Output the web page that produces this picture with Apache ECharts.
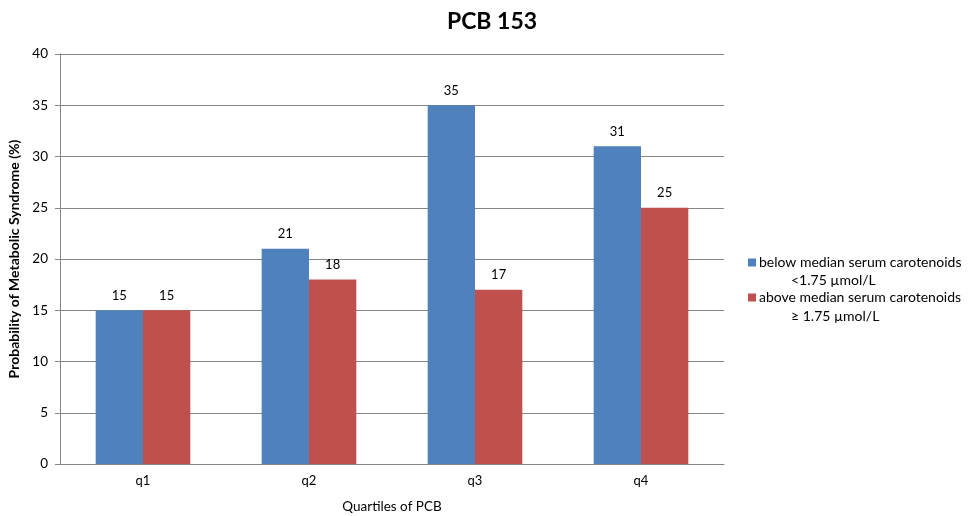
<!DOCTYPE html>
<html>
<head>
<meta charset="utf-8">
<script src="https://cdn.jsdelivr.net/npm/echarts@6/dist/echarts.min.js"></script>
<style>html,body{margin:0;padding:0;background:#fff}#chart{width:972px;height:516px}</style>
</head>
<body>
<div id="chart"></div>
<script>
// Quartiles of PCB 153 and metabolic syndrome probability by carotenoid level
const categories = ['q1', 'q2', 'q3', 'q4'];
const belowMedian = [15, 21, 35, 31];
const aboveMedian = [15, 18, 17, 25];
const seriesNames = ['below median serum carotenoids', 'above median serum carotenoids'];
const seriesSubtitles = ['<1.75 µmol/L', '≥ 1.75 µmol/L'];

const font = 'Lato, "Open Sans", sans-serif';
const legendTop = 254;
const legendStep = 35;

const chart = echarts.init(document.getElementById('chart'));
chart.setOption({
  animation: false,
  textStyle: { fontFamily: font },
  title: {
    text: 'PCB 153',
    left: 487, top: 5, textAlign: 'center',
    textStyle: { fontFamily: font, fontSize: 23, fontWeight: 'bold', color: '#000' }
  },
  legend: {
    orient: 'vertical',
    left: 748, top: legendTop,
    padding: 0,
    itemWidth: 8, itemHeight: 8, itemGap: legendStep - 17,
    icon: 'rect',
    textStyle: { fontFamily: font, fontSize: 14, color: '#000', lineHeight: 17, padding: [0, 0, 0, -2] },
    data: seriesNames
  },
  // second line of each legend entry (the threshold), indented under its label
  graphic: seriesSubtitles.map((t, i) => ({
    type: 'text',
    left: 791,
    top: legendTop + 19 + i * (legendStep + 1),
    style: { text: t, fontFamily: font, fontSize: 14, fill: '#000' }
  })),
  grid: { left: 60, right: 248, top: 54, bottom: 52, outerBoundsMode: 'none', containLabel: false },
  xAxis: {
    type: 'category',
    data: categories,
    name: 'Quartiles of PCB',
    nameLocation: 'middle',
    nameGap: 36,
    nameTextStyle: { fontFamily: font, fontSize: 13.5, color: '#000' },
    axisLine: { lineStyle: { color: '#868686' } },
    axisTick: { show: false },
    axisLabel: { fontFamily: font, fontSize: 13, color: '#000', margin: 10 }
  },
  yAxis: {
    type: 'value',
    min: 0, max: 40, interval: 5,
    name: 'Probability of Metabolic Syndrome (%)',
    nameLocation: 'middle',
    nameGap: 36,
    nameTextStyle: { fontFamily: font, fontSize: 14, fontWeight: 'bold', color: '#000' },
    axisLine: { show: true, lineStyle: { color: '#868686' } },
    axisTick: { show: true, length: 5, lineStyle: { color: '#868686' } },
    axisLabel: { fontFamily: font, fontSize: 13.5, color: '#000', margin: 12 },
    splitLine: { lineStyle: { color: '#868686' } }
  },
  series: [
    {
      name: seriesNames[0], type: 'bar', data: belowMedian,
      barGap: '0%', barCategoryGap: '43%',
      itemStyle: { color: '#4f81bd' },
      label: { show: true, position: 'top', distance: 8, fontFamily: font, fontSize: 13, color: '#000' }
    },
    {
      name: seriesNames[1], type: 'bar', data: aboveMedian,
      barGap: '0%', barCategoryGap: '43%',
      itemStyle: { color: '#c0504d' },
      label: { show: true, position: 'top', distance: 8, fontFamily: font, fontSize: 13, color: '#000' }
    }
  ]
});
</script>
</body>
</html>
